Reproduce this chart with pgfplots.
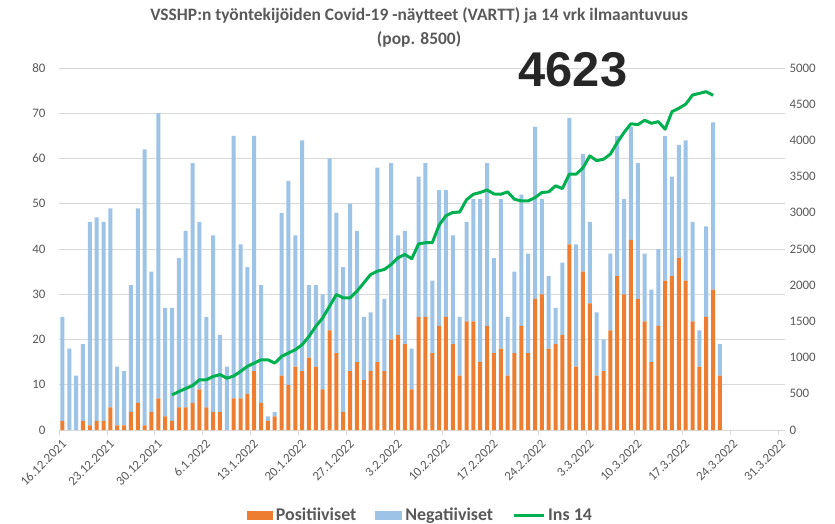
\documentclass[border=0pt]{standalone}
\usepackage{fontspec}
\setmainfont{Carlito}
\newfontfamily\bignum{Liberation Sans}
\usepackage{pgfplots}
\usepackage{pgfplotstable}
\pgfplotsset{compat=1.18}
\definecolor{posorange}{HTML}{ED7D31}
\definecolor{negblue}{HTML}{9DC3E6}
\definecolor{insgreen}{HTML}{00B050}
\definecolor{gridgray}{HTML}{D9D9D9}
\definecolor{labelgray}{HTML}{595959}
\definecolor{bigtext}{HTML}{262626}

% d = days from 16.12.2021
\pgfplotstableread{
d pos neg
0 2 23
1 0 18
2 0 12
3 2 17
4 1 45
5 2 45
6 2 44
7 5 44
8 1 13
9 1 12
10 4 28
11 6 43
12 1 61
13 4 31
14 7 63
15 3 24
16 2 25
17 5 33
18 5 39
19 6 53
20 9 37
21 5 20
22 4 39
23 4 17
24 0 14
25 7 58
26 7 34
27 8 28
28 13 52
29 6 26
30 2 1
31 3 1
32 12 36
33 10 45
34 14 29
35 13 51
36 16 16
37 14 18
38 9 21
39 22 38
40 17 31
41 4 32
42 13 37
43 15 29
44 11 14
45 13 13
46 15 43
47 13 16
48 20 39
49 21 22
50 19 25
51 9 9
52 25 31
53 25 34
54 17 16
55 23 30
56 25 28
57 19 24
58 12 13
59 24 22
60 24 27
61 15 36
62 23 36
63 17 21
64 18 33
65 12 13
66 17 18
67 23 29
68 17 22
69 29 38
70 30 21
71 18 16
72 19 8
73 21 16
74 41 28
75 14 27
76 35 26
77 28 18
78 12 14
79 13 7
80 22 17
81 34 31
82 30 21
83 42 25
84 29 30
85 24 15
86 15 16
87 23 17
88 33 32
89 34 22
90 38 25
91 33 31
92 24 22
93 14 8
94 25 20
95 31 37
96 12 7
}\vartt

\pgfplotstableread{
d ins
16 485
17 531
18 573
19 614
20 693
21 693
22 739
23 765
24 716
25 745
26 808
27 878
28 924
29 970
30 970
31 924
32 1016
33 1063
34 1109
35 1178
36 1293
37 1432
38 1548
39 1709
40 1871
41 1825
42 1825
43 1917
44 2032
45 2148
46 2194
47 2217
48 2286
49 2379
50 2425
51 2365
52 2570
53 2587
54 2587
55 2830
56 2960
57 3005
58 3010
59 3180
60 3256
61 3280
62 3316
63 3260
64 3256
65 3289
66 3187
67 3164
68 3164
69 3210
70 3280
71 3289
72 3372
73 3335
74 3533
75 3533
76 3620
77 3786
78 3720
79 3740
80 3810
81 3970
82 4110
83 4230
84 4217
85 4278
86 4236
87 4259
88 4155
89 4397
90 4443
91 4500
92 4627
93 4650
94 4673
95 4623
}\insdata

\begin{document}
\begin{tikzpicture}[font=\fontsize{13}{15}\selectfont]
\useasboundingbox (-59bp,-94bp) rectangle (776bp,430bp);
\begin{axis}[
  at={(0,0)},anchor=south west,scale only axis,
  width=726bp,height=362bp,
  xmin=0,xmax=106,ymin=0,ymax=80,
  ybar stacked,bar width=4bp,
  axis lines*=left,
  x axis line style={draw=gridgray,line width=0.8bp,-},
  y axis line style={draw=none},
  ymajorgrids,grid style={gridgray,line width=0.8bp},
  ytick={0,10,...,80},
  ytick style={draw=none},
  xtick={0,7,...,105},
  xticklabels={16.12.2021,23.12.2021,30.12.2021,6.1.2022,13.1.2022,20.1.2022,27.1.2022,3.2.2022,10.2.2022,17.2.2022,24.2.2022,3.3.2022,10.3.2022,17.3.2022,24.3.2022,31.3.2022},
  xtick style={draw=gridgray,line width=0.8bp},
  tick align=outside,major tick length=5bp,
  xticklabel style={rotate=45,anchor=north east,text=labelgray,inner sep=1bp,yshift=-3bp},
  yticklabel style={text=labelgray,xshift=-5bp},
  /pgf/number format/assume math mode=true,
  clip=false,
  legend style={at={(0.4985,-0.235)},anchor=center,draw=none,fill=none,
    legend columns=3,font=\bfseries\fontsize{18}{21}\selectfont,text=labelgray,
    nodes={inner sep=3bp},
    /tikz/every even column/.style={column sep=16bp},
    cells={anchor=west}},
]
\addplot[fill=posorange,draw=none,
  legend image code/.code={\fill[posorange] (0bp,-4.5bp) rectangle (26bp,4.5bp);}]
  table[x expr=\thisrow{d}+0.5,y=pos] {\vartt};
\addlegendentry{Positiiviset}
\addplot[fill=negblue,draw=none,
  legend image code/.code={\fill[negblue] (0bp,-4.5bp) rectangle (27bp,4.5bp);}]
  table[x expr=\thisrow{d}+0.5,y=neg] {\vartt};
\addlegendentry{Negatiiviset}
\addlegendimage{legend image code/.code={\draw[insgreen,line width=3bp] (0bp,0bp) -- (30bp,0bp);}}
\addlegendentry{Ins 14}
\node[font=\bfseries\fontsize{17.5}{20}\selectfont,text=labelgray] at (rel axis cs:0.496,1.146) {VSSHP:n työntekijöiden Covid-19 -näytteet (VARTT) ja 14 vrk ilmaantuvuus};
\node[font=\bfseries\fontsize{17.5}{20}\selectfont,text=labelgray] at (rel axis cs:0.496,1.080) {(pop. 8500)};
\node[font=\bignum\bfseries\fontsize{49}{55}\selectfont,text=bigtext] at (rel axis cs:0.708,0.995) {4623};
\end{axis}
\begin{axis}[
  at={(0,0)},anchor=south west,scale only axis,
  width=726bp,height=362bp,
  xmin=0,xmax=106,ymin=0,ymax=5000,
  axis x line=none,axis y line*=right,
  y axis line style={draw=none},
  ytick={0,500,...,5000},ytick style={draw=none},
  yticklabel style={text=labelgray,xshift=1bp},
  /pgf/number format/assume math mode=true,
  /pgf/number format/set thousands separator={},
]
\addplot[insgreen,line width=3bp,line join=round] table[x expr=\thisrow{d}+0.5,y=ins] {\insdata};
\end{axis}
\end{tikzpicture}
\end{document}
